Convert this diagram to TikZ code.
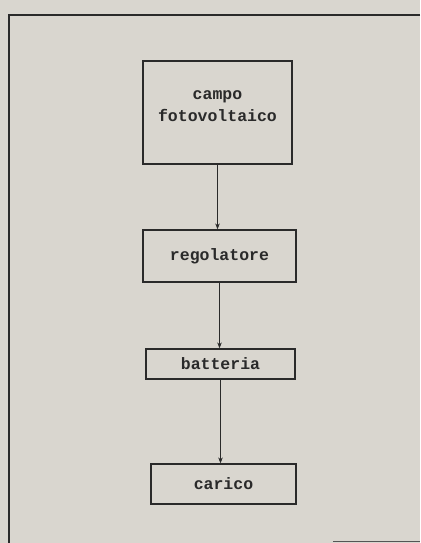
\documentclass[tikz,border=0pt]{standalone}
\usepackage{fontspec}
\setmonofont{Liberation Mono}
\usetikzlibrary{arrows.meta}
\definecolor{bg}{HTML}{D9D6CF}
\definecolor{ink}{HTML}{2A2A2A}
\begin{document}
\begin{tikzpicture}[x=1pt,y=-1pt,
  lbl/.style={font=\ttfamily\bfseries\fontsize{16.5}{22}\selectfont, text=ink},
  box/.style={lbl, draw=ink, line width=1.2pt, rectangle, inner sep=0pt},
  arr/.style={draw=ink, line width=1pt, -{Stealth[length=6pt,width=4.5pt]}}]
\fill[bg] (0,0) rectangle (420,543);
\useasboundingbox (0,0) rectangle (420,543);
\draw[ink, line width=2.6pt] (420,15) -- (9,15) -- (9,543);
\draw[ink!80, line width=1.2pt] (333,541.5) -- (420,541.5);
\node[box, minimum width=149pt, minimum height=103pt] (b1) at (217.5,112.5) {};
\node[lbl, align=center, inner sep=0pt] (t1) at (217.5,106) {campo\\fotovoltaico};
\node[box, minimum width=153pt, minimum height=52pt] (b2) at (219.5,256) {regolatore};
\node[box, minimum width=149pt, minimum height=30pt] (b3) at (220.5,364) {batteria};
\node[box, minimum width=145pt, minimum height=40pt] (b4) at (223.5,484) {carico};
\draw[arr] (b1.south) -- (b1.south |- b2.north);
\draw[arr] (b2.south) -- (b2.south |- b3.north);
\draw[arr] (b3.south) -- (b3.south |- b4.north);
\end{tikzpicture}
\end{document}
